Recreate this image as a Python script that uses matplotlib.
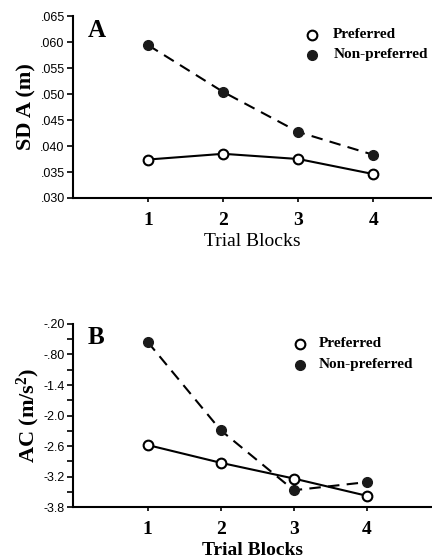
import matplotlib
matplotlib.use('Agg')
from matplotlib import pyplot as plt
from matplotlib.ticker import FixedLocator

# Data
blocks = [1, 2, 3, 4]
sda_pref = [0.0374, 0.0385, 0.0375, 0.0346]
sda_nonpref = [0.0594, 0.0504, 0.0427, 0.0383]
ac_pref = [-2.58, -2.93, -3.24, -3.58]
ac_nonpref = [-0.55, -2.29, -3.47, -3.31]

sda_ticks = [0.030, 0.035, 0.040, 0.045, 0.050, 0.055, 0.060, 0.065]
sda_labels = ['.030', '.035', '.040', '.045', '.050', '.055', '.060', '.065']
ac_ticks = [-3.8, -3.2, -2.6, -2.0, -1.4, -0.8, -0.2]
ac_labels = ['-3.8', '-3.2', '-2.6', '-2.0', '-1.4', '-.80', '-.20']
ac_minor = [-3.5, -2.9, -2.3, -1.7, -1.1, -0.5]

serif = 'Liberation Serif'
sans = 'Liberation Sans'
plt.rcParams['mathtext.fontset'] = 'custom'
plt.rcParams['mathtext.rm'] = 'Liberation Serif:bold'
plt.rcParams['mathtext.it'] = 'Liberation Serif:bold'

fig = plt.figure(figsize=(4.32, 5.59), dpi=100)
axA = fig.add_axes([0.169, 0.6458, 0.831, 0.3255])
axB = fig.add_axes([0.169, 0.093, 0.831, 0.3274])


def style_axis(ax):
    for s in ['top', 'right']:
        ax.spines[s].set_visible(False)
    for s in ['left', 'bottom']:
        ax.spines[s].set_linewidth(1.5)
    ax.set_xticks(blocks)
    ax.set_xticklabels([str(b) for b in blocks], fontfamily=serif,
                       fontweight='bold', fontsize=14)
    ax.tick_params(axis='x', length=3, width=1.2, pad=7)
    ax.tick_params(axis='y', which='both', length=4, width=1.2, pad=2)


def draw_series(ax, pref, nonpref):
    ax.plot(blocks, nonpref, color='black', lw=1.5, ls=(0, (5.5, 3.5)),
            marker='o', ms=7, mfc='#1a1a1a', mec='#1a1a1a', zorder=3)
    ax.plot(blocks, pref, color='black', lw=1.5, ls='-',
            marker='o', ms=7, mfc='white', mec='black', mew=1.5, zorder=4)


# Panel A
draw_series(axA, sda_pref, sda_nonpref)
style_axis(axA)
axA.set_xlim(0, 4.78)
axA.set_ylim(0.030, 0.065)
axA.set_yticks(sda_ticks)
axA.set_yticklabels(sda_labels, fontfamily=sans, fontsize=9)
axA.set_ylabel('SD A (m)', fontfamily=serif, fontweight='bold', fontsize=16,
               labelpad=3)
axA.set_xlabel('Trial Blocks', fontfamily=serif, fontsize=14, labelpad=3)
axA.text(0.042, 0.985, 'A', transform=axA.transAxes, ha='left', va='top',
         fontfamily=serif, fontweight='bold', fontsize=18)
axA.plot([0.667], [0.897], 'o', ms=7, mfc='white', mec='black', mew=1.5,
         transform=axA.transAxes, clip_on=False)
axA.plot([0.667], [0.787], 'o', ms=7, mfc='#1a1a1a', mec='#1a1a1a',
         transform=axA.transAxes, clip_on=False)
axA.text(0.725, 0.897, 'Preferred', transform=axA.transAxes, va='center',
         fontfamily=serif, fontweight='bold', fontsize=11)
axA.text(0.725, 0.787, 'Non-preferred', transform=axA.transAxes, va='center',
         fontfamily=serif, fontweight='bold', fontsize=11)

# Panel B
draw_series(axB, ac_pref, ac_nonpref)
style_axis(axB)
axB.set_xlim(-0.02, 4.89)
axB.set_ylim(-3.8, -0.2)
axB.set_yticks(ac_ticks)
axB.set_yticklabels(ac_labels, fontfamily=sans, fontsize=9)
axB.yaxis.set_minor_locator(FixedLocator(ac_minor))
axB.set_ylabel('AC (m/s$^2$)', fontfamily=serif, fontweight='bold', fontsize=16,
               labelpad=1)
axB.set_xlabel('Trial Blocks', fontfamily=serif, fontweight='bold', fontsize=14,
               labelpad=3)
axB.text(0.042, 0.99, 'B', transform=axB.transAxes, ha='left', va='top',
         fontfamily=serif, fontweight='bold', fontsize=18)
axB.plot([0.632], [0.893], 'o', ms=7, mfc='white', mec='black', mew=1.5,
         transform=axB.transAxes, clip_on=False)
axB.plot([0.632], [0.776], 'o', ms=7, mfc='#1a1a1a', mec='#1a1a1a',
         transform=axB.transAxes, clip_on=False)
axB.text(0.685, 0.893, 'Preferred', transform=axB.transAxes, va='center',
         fontfamily=serif, fontweight='bold', fontsize=11)
axB.text(0.685, 0.776, 'Non-preferred', transform=axB.transAxes, va='center',
         fontfamily=serif, fontweight='bold', fontsize=11)

fig.savefig('out.png', dpi=100)
